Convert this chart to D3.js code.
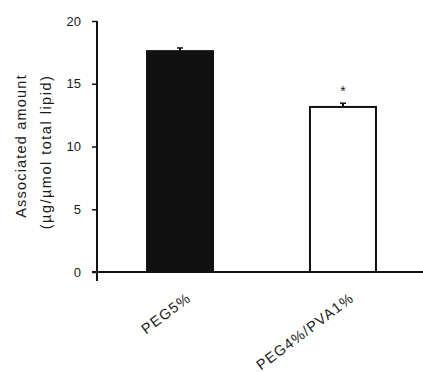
<!DOCTYPE html>
<meta charset="utf-8">
<script src="https://d3js.org/d3.v7.min.js"></script>
<style>
  body { margin: 0; background: #fff; }
  text { font-family: "Liberation Sans", Arial, sans-serif; fill: #1a1a1a; }
</style>
<div id="chart"></div>
<script>
// data
const groups = ["PEG5%", "PEG4%/PVA1%"];
const values = [17.6, 13.15];
const errors = [0.25, 0.3];
const fills = ["#111", "#fff"];
const signif = ["", "*"];
const yTicks = [0, 5, 10, 15, 20];

const W = 423, H = 372;
const svg = d3.select("#chart").append("svg")
    .attr("width", W).attr("height", H);

const y = d3.scaleLinear().domain([0, 20]).range([272, 21]);
const x = d3.scaleBand().domain(groups).range([97, 426]).paddingInner(0.595).paddingOuter(0.307);

// bars
svg.selectAll("rect.bar")
  .data(groups)
  .join("rect")
    .attr("class", "bar")
    .attr("x", d => x(d))
    .attr("width", x.bandwidth())
    .attr("y", (d, i) => y(values[i]))
    .attr("height", (d, i) => y(0) - y(values[i]))
    .attr("fill", (d, i) => fills[i])
    .attr("stroke", "#111")
    .attr("stroke-width", 2);

// error bars (upper half only)
svg.selectAll("line.err")
  .data(groups)
  .join("line")
    .attr("class", "err")
    .attr("x1", d => x(d) + x.bandwidth() / 2)
    .attr("x2", d => x(d) + x.bandwidth() / 2)
    .attr("y1", (d, i) => y(values[i]))
    .attr("y2", (d, i) => y(values[i] + errors[i]))
    .attr("stroke", "#111").attr("stroke-width", 2);
svg.selectAll("line.cap")
  .data(groups)
  .join("line")
    .attr("class", "cap")
    .attr("x1", d => x(d) + x.bandwidth() / 2 - 3)
    .attr("x2", d => x(d) + x.bandwidth() / 2 + 3)
    .attr("y1", (d, i) => y(values[i] + errors[i]))
    .attr("y2", (d, i) => y(values[i] + errors[i]))
    .attr("stroke", "#111").attr("stroke-width", 1.5);

// significance star
svg.selectAll("text.sig")
  .data(groups)
  .join("text")
    .attr("class", "sig")
    .attr("x", d => x(d) + x.bandwidth() / 2)
    .attr("y", (d, i) => y(values[i] + errors[i]) - 7)
    .attr("text-anchor", "middle")
    .style("font-size", "14px")
    .text((d, i) => signif[i]);

// y axis
const yAxis = svg.append("g")
    .attr("transform", "translate(97,0)")
    .call(d3.axisLeft(y).tickValues(yTicks).tickSize(5).tickPadding(11));
yAxis.select(".domain").remove();
yAxis.selectAll(".tick line").attr("stroke", "#111").attr("stroke-width", 1.5);
yAxis.selectAll(".tick text").style("font-size", "13px").style("fill", "#1a1a1a");
svg.append("line")
    .attr("x1", 97).attr("x2", 97)
    .attr("y1", y(20)).attr("y2", y(0) + 9)
    .attr("stroke", "#111").attr("stroke-width", 2);

// x axis
svg.append("line")
    .attr("x1", 92).attr("x2", W)
    .attr("y1", y(0)).attr("y2", y(0))
    .attr("stroke", "#111").attr("stroke-width", 2);

const xAxis = svg.append("g")
    .attr("transform", `translate(0,${y(0)})`)
    .call(d3.axisBottom(x).tickSize(0).tickPadding(0));
xAxis.select(".domain").remove();
xAxis.selectAll(".tick text")
    .attr("text-anchor", "end")
    .attr("y", 0)
    .attr("dy", 0)
    .attr("transform", "translate(12,28) rotate(-37)")
    .style("font-size", "14.5px")
    .style("letter-spacing", "1.2px")
    .style("fill", "#1a1a1a");

// y label
svg.append("text")
    .attr("transform", "translate(26,146) rotate(-90)")
    .attr("text-anchor", "middle")
    .style("font-size", "14.5px")
    .style("letter-spacing", "1.2px")
    .text("Associated amount");
svg.append("text")
    .attr("transform", "translate(51,152) rotate(-90)")
    .attr("text-anchor", "middle")
    .style("font-size", "14.5px")
    .style("letter-spacing", "1.5px")
    .text("(µg/µmol total lipid)");
</script>
